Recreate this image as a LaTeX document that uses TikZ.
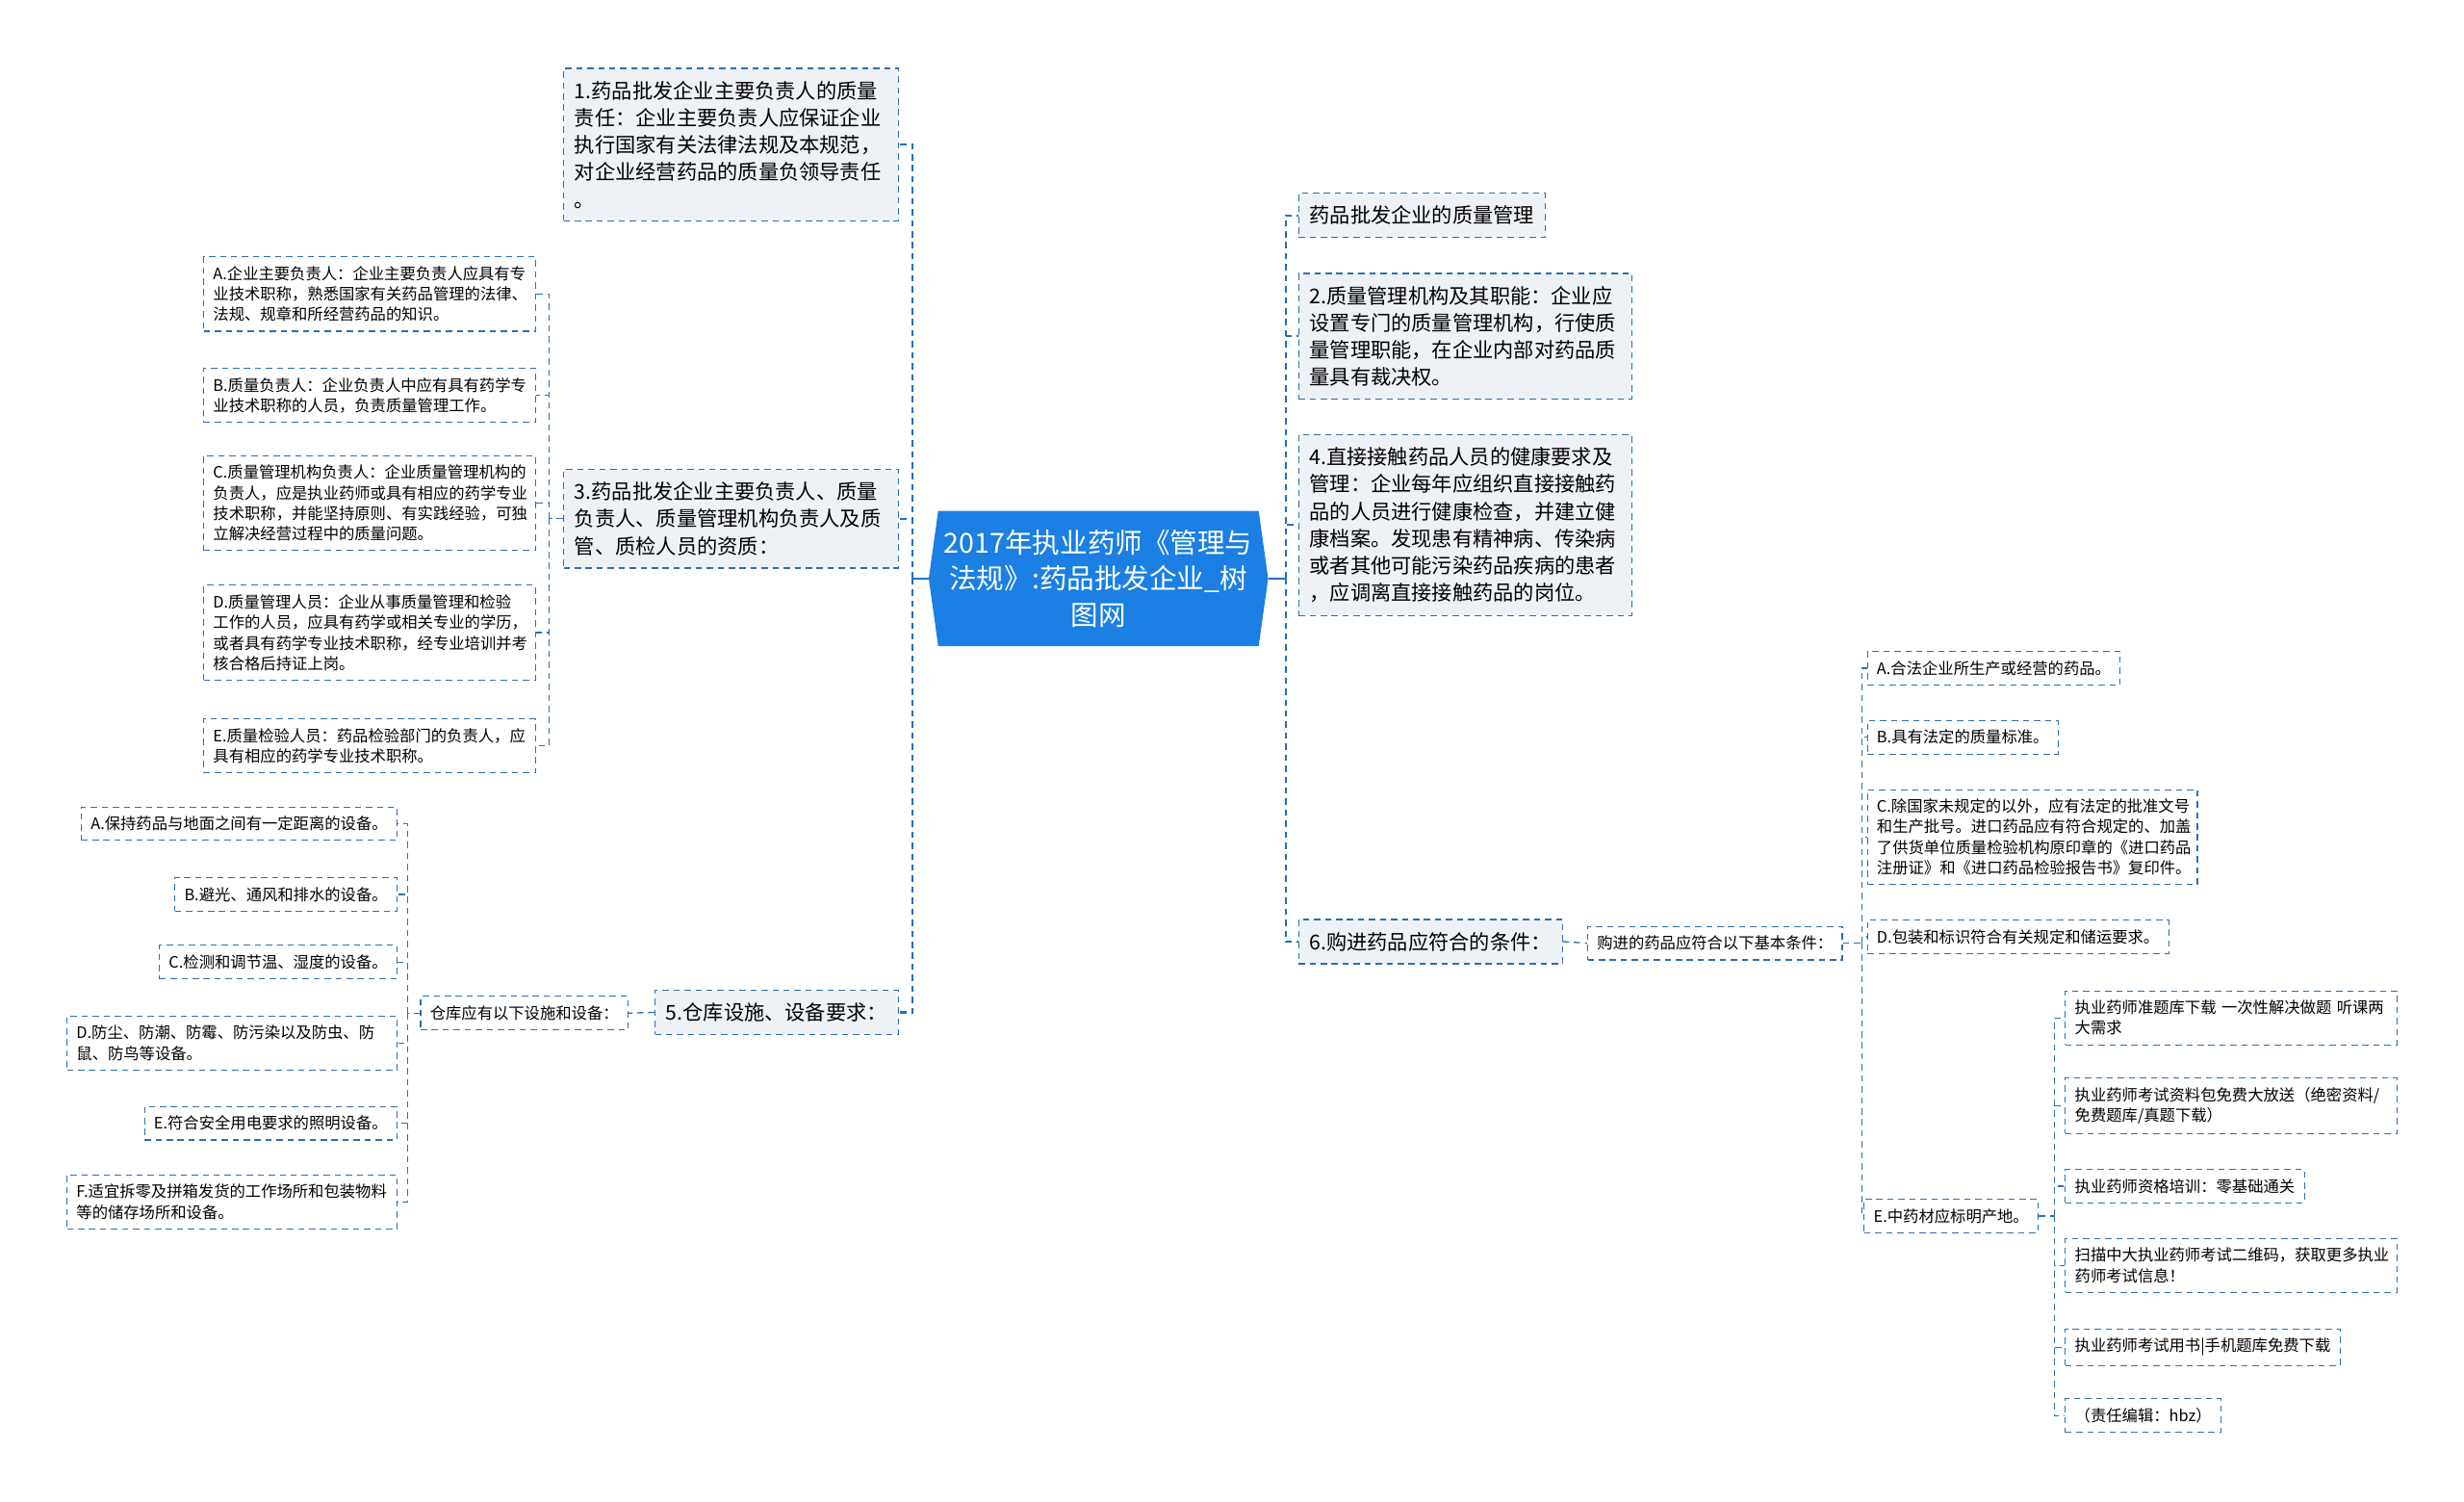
\documentclass[tikz,border=0pt]{standalone}
\usepackage{fontspec}
\setmainfont{Noto Sans CJK SC}
\usetikzlibrary{shapes.symbols}

\begin{document}
\begin{tikzpicture}[x=1pt, y=-1pt,
  topic/.style={signal, signal to=west and east, signal pointer angle=164, fill=topic_blue, text=white, align=center, font=\fontsize{17.5}{23}\selectfont, minimum width=216pt, minimum height=86pt, inner sep=0pt},
  mainbox/.style={draw=line_blue, line width=0.7pt, dash pattern=on 4pt off 3pt, fill=box_gray, align=left, font=\fontsize{13}{17.3}\selectfont, inner xsep=7pt, inner ysep=8pt},
  subbox/.style={draw=line_blue, line width=0.7pt, dash pattern=on 4pt off 3pt, fill=white, align=left, font=\fontsize{10}{13}\selectfont, inner xsep=6pt, inner ysep=6pt},
  trunk/.style={draw=spine_blue, line width=1.3pt, dash pattern=on 4pt off 3pt},
  stub/.style={draw=spine_blue, line width=1.3pt},
  link/.style={draw=line_blue, line width=0.8pt, dash pattern=on 4pt off 3pt}]

\definecolor{topic_blue}{HTML}{1B7FE3}
\definecolor{line_blue}{HTML}{2C6FB0}
\definecolor{spine_blue}{HTML}{1F6FC4}
\definecolor{box_gray}{HTML}{EEF1F5}

\useasboundingbox (0,0) rectangle (1568,955);

\node[topic] (c) at (699,368) {2017年执业药师《管理与\\法规》:药品批发企业\_树\\图网};

\node[mainbox, anchor=east, text width=199pt] (b1) at (572,92) {1.药品批发企业主要负责人的质量\\责任：企业主要负责人应保证企业\\执行国家有关法律法规及本规范，\\对企业经营药品的质量负领导责任\\。};
\node[mainbox, anchor=east, text width=199pt] (b3) at (572,330) {3.药品批发企业主要负责人、质量\\负责人、质量管理机构负责人及质\\管、质检人员的资质：};
\node[mainbox, anchor=east] (b5) at (572,644) {5.仓库设施、设备要求：};

\node[subbox, anchor=east, text width=199pt] (q1) at (341,187) {A.企业主要负责人：企业主要负责人应具有专\\业技术职称，熟悉国家有关药品管理的法律、\\法规、规章和所经营药品的知识。};
\node[subbox, anchor=east, text width=199pt] (q2) at (341,251.5) {B.质量负责人：企业负责人中应有具有药学专\\业技术职称的人员，负责质量管理工作。};
\node[subbox, anchor=east, text width=199pt] (q3) at (341,320) {C.质量管理机构负责人：企业质量管理机构的\\负责人，应是执业药师或具有相应的药学专业\\技术职称，并能坚持原则、有实践经验，可独\\立解决经营过程中的质量问题。};
\node[subbox, anchor=east, text width=199pt] (q4) at (341,402.5) {D.质量管理人员：企业从事质量管理和检验\\工作的人员，应具有药学或相关专业的学历，\\或者具有药学专业技术职称，经专业培训并考\\核合格后持证上岗。};
\node[subbox, anchor=east, text width=199pt] (q5) at (341,474.5) {E.质量检验人员：药品检验部门的负责人，应\\具有相应的药学专业技术职称。};

\node[subbox, anchor=east] (w) at (400,644.5) {仓库应有以下设施和设备：};
\node[subbox, anchor=east] (wa) at (253,524) {A.保持药品与地面之间有一定距离的设备。};
\node[subbox, anchor=east] (wb) at (253,569) {B.避光、通风和排水的设备。};
\node[subbox, anchor=east] (wc) at (253,612) {C.检测和调节温、湿度的设备。};
\node[subbox, anchor=east, text width=198pt] (wd) at (253,663.5) {D.防尘、防潮、防霉、防污染以及防虫、防\\鼠、防鸟等设备。};
\node[subbox, anchor=east] (we) at (253,714.5) {E.符合安全用电要求的照明设备。};
\node[subbox, anchor=east, text width=198pt] (wf) at (253,764.5) {F.适宜拆零及拼箱发货的工作场所和包装物料\\等的储存场所和设备。};

\node[mainbox, anchor=west] (r0) at (826,137) {药品批发企业的质量管理};
\node[mainbox, anchor=west, text width=198pt] (b2) at (826,214) {2.质量管理机构及其职能：企业应\\设置专门的质量管理机构，行使质\\量管理职能，在企业内部对药品质\\量具有裁决权。};
\node[mainbox, anchor=west, text width=198pt] (b4) at (826,334) {4.直接接触药品人员的健康要求及\\管理：企业每年应组织直接接触药\\品的人员进行健康检查，并建立健\\康档案。发现患有精神病、传染病\\或者其他可能污染药品疾病的患者\\，应调离直接接触药品的岗位。};
\node[mainbox, anchor=west] (b6) at (826,599) {6.购进药品应符合的条件：};

\node[subbox, anchor=west] (p) at (1010,600) {购进的药品应符合以下基本条件：};
\node[subbox, anchor=west] (pa) at (1188,425) {A.合法企业所生产或经营的药品。};
\node[subbox, anchor=west] (pb) at (1188,469) {B.具有法定的质量标准。};
\node[subbox, anchor=west, text width=198pt] (pc) at (1188,532.5) {C.除国家未规定的以外，应有法定的批准文号\\和生产批号。进口药品应有符合规定的、加盖\\了供货单位质量检验机构原印章的《进口药品\\注册证》和《进口药品检验报告书》复印件。};
\node[subbox, anchor=west] (pd) at (1188,596) {D.包装和标识符合有关规定和储运要求。};
\node[subbox, anchor=west] (pe) at (1186,773.5) {E.中药材应标明产地。};

\node[subbox, anchor=west, text width=199pt] (e1) at (1314,647.5) {执业药师准题库下载 一次性解决做题 听课两\\大需求};
\node[subbox, anchor=west, text width=199pt] (e2) at (1314,703.5) {执业药师考试资料包免费大放送（绝密资料/\\免费题库/真题下载）};
\node[subbox, anchor=west] (e3) at (1314,754.5) {执业药师资格培训：零基础通关};
\node[subbox, anchor=west, text width=199pt] (e4) at (1314,805) {扫描中大执业药师考试二维码，获取更多执业\\药师考试信息！};
\node[subbox, anchor=west] (e5) at (1314,857) {执业药师考试用书|手机题库免费下载};
\node[subbox, anchor=west] (e6) at (1314,900.5) {（责任编辑：hbz）};

\draw[stub] (c.west) -- ++(-10,0) coordinate (cl);
\foreach \n in {b1,b3,b5} \draw[trunk] (cl) |- (\n.east);
\draw[stub] (c.east) -- ++(11,0) coordinate (cr);
\foreach \n in {r0,b2,b4,b6} \draw[trunk] (cr) |- (\n.west);

\draw[link] (b3.west) -- ++(-9,0) coordinate (s3);
\foreach \n in {q1,q2,q3,q4,q5} \draw[link] (s3) |- (\n.east);

\draw[link] (b5.west) -- (w.east);
\draw[link] (w.west) -- ++(-8,0) coordinate (sw);
\foreach \n in {wa,wb,wc,wd,we,wf} \draw[link] (sw) |- (\n.east);

\draw[link] (b6.east) -- (p.west);
\draw[link] (p.east) -- ++(12,0) coordinate (sp);
\foreach \n in {pa,pb,pc,pd,pe} \draw[link] (sp) |- (\n.west);

\draw[link] (pe.east) -- ++(10,0) coordinate (se);
\foreach \n in {e1,e2,e3,e4,e5,e6} \draw[link] (se) |- (\n.west);

\end{tikzpicture}
\end{document}
